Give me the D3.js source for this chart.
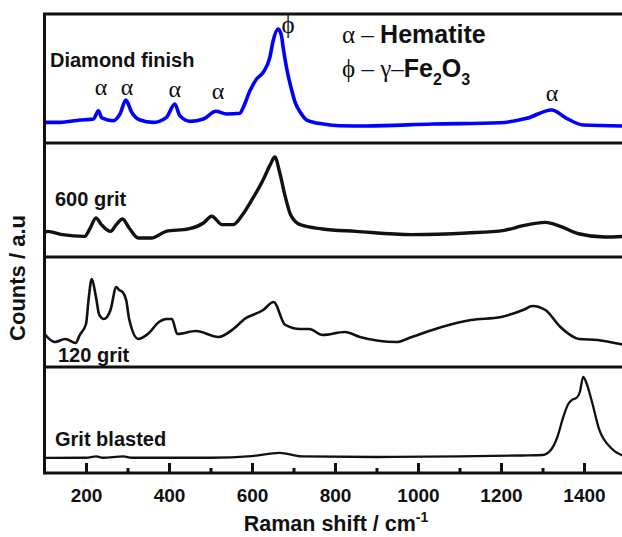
<!DOCTYPE html>
<meta charset="utf-8">
<title>Raman spectra</title>
<style>
body { margin: 0; background: #fff; }
svg { display: block; }
.lbl { font-family: "Liberation Sans", Arial, sans-serif; font-weight: bold; fill: #111; }
.greek { font-family: "Liberation Serif", "Times New Roman", serif; font-weight: normal; fill: #111; }
.axis text { font-family: "Liberation Sans", Arial, sans-serif; font-weight: bold; font-size: 19px; fill: #111; }
.axis line { stroke: #111; stroke-width: 3px; }
</style>
<body>
<svg width="622" height="537" id="svg"></svg>
<script src="https://d3js.org/d3.v7.min.js"></script>
<script>

// spectra (Raman shift in cm-1, counts in a.u. per panel)
var diamondShift = [100, 137, 186, 218, 230, 238, 266, 282, 296, 310, 330, 362, 394, 414, 426, 451, 483, 513, 539, 571, 579, 595, 611, 627, 643, 651, 663, 671, 675, 683, 696, 704, 716, 732, 772, 812, 876, 1036, 1197, 1262, 1322, 1358, 1398, 1500];
var diamondCounts = [16, 16, 17.8, 18.6, 25, 19.4, 17.3, 22.5, 33.3, 23.8, 17.8, 16, 19.9, 30.2, 21.2, 16.8, 18.6, 24.6, 22.5, 23, 27.7, 40.5, 49.6, 54.8, 66.4, 79.3, 88.4, 83.2, 74.2, 58.7, 40.5, 31.5, 24, 17.8, 14.7, 13.4, 13.2, 14.7, 15.7, 19.1, 25.6, 19.1, 14, 13.2];

var grit600Shift = [100, 107, 143, 197, 210, 224, 237, 259, 273, 288, 304, 326, 358, 393, 447, 483, 503, 528, 555, 577, 600, 627, 644, 655, 667, 680, 693, 716, 770, 850, 985, 1119, 1208, 1253, 1307, 1343, 1387, 1450, 1500];
var grit600Counts = [21, 22.5, 19.6, 18.1, 25.4, 34.2, 28.4, 22.5, 28.4, 33.3, 25.4, 16.7, 16.7, 22.5, 24.6, 29.8, 35.7, 28.4, 28.4, 37.1, 50.3, 67.8, 81, 87.7, 73.7, 53.2, 37.1, 28.4, 24.6, 22.5, 19.6, 21.1, 23.4, 27.5, 30.4, 26.9, 20.4, 17.5, 18.1];

var grit120Shift = [100, 125, 150, 175, 185, 200, 206, 214, 224, 232, 243, 259, 273, 280, 288, 297, 304, 326, 349, 376, 394, 407, 420, 465, 519, 555, 582, 627, 652, 680, 716, 738, 770, 824, 860, 949, 985, 1057, 1128, 1200, 1253, 1276, 1307, 1343, 1388, 1433, 1487, 1500];
var grit120Counts = [30, 22.7, 25.5, 21.8, 29.1, 39.1, 60.6, 80, 63.6, 47.3, 43.6, 51.8, 72.7, 70, 68.2, 60.6, 43.6, 25.5, 30, 40.9, 43.6, 43.6, 30, 32.7, 27.3, 34.5, 43.6, 51.8, 59.1, 38.2, 34.5, 34.5, 29.1, 31.8, 27.3, 22.7, 27.3, 36.4, 42.7, 45.5, 51.8, 55.5, 51.8, 36.4, 25.5, 24.5, 20.9, 20];

var blastedShift = [100, 200, 225, 240, 290, 310, 500, 600, 667, 720, 900, 1100, 1250, 1300, 1320, 1335, 1350, 1362, 1372, 1382, 1390, 1398, 1405, 1418, 1437, 1465, 1490, 1500];
var blastedCounts = [14.2, 14.4, 15.6, 14.4, 15.6, 14.4, 14.4, 16, 18.9, 15.6, 15.1, 15.6, 16.5, 17, 21.7, 33, 52.8, 65.1, 69.3, 70.8, 76.4, 90.6, 85.8, 68.9, 40.6, 23.6, 17, 16];

var panelNames = ["Diamond finish", "600 grit", "120 grit", "Grit blasted"];
var panelColors = ["#0000ff", "#111", "#111", "#111"];

// peak markers in the top panel
var alphaShift = [236, 299, 414, 518, 1323];
var alphaLevel = [37.2, 37.2, 35.7, 34.1, 32.6];
var phiShift = [687];
var phiLevel = [85.3];

var majorTicks = [200, 400, 600, 800, 1000, 1200, 1400];
var minorTicks = [300, 500, 700, 900, 1100, 1300, 1500];

var svg = d3.select("svg");

var x = d3.scaleLinear().domain([100, 1500]).range([44.5, 625.5]);

// panel bands (top, bottom) in pixels
var bands = [[14, 143], [143, 257], [257, 367], [367, 473]];
var ys = bands.map(function(b) {
  return d3.scaleLinear().domain([0, 100]).range([b[1], b[0]]);
});

var series = [
  d3.zip(diamondShift, diamondCounts),
  d3.zip(grit600Shift, grit600Counts),
  d3.zip(grit120Shift, grit120Counts),
  d3.zip(blastedShift, blastedCounts)
];
// the measured traces are noisy, so the thicker strokes stand in for the noise band
var widths = [3.6, 3.4, 2.6, 2.3];

series.forEach(function(s, i) {
  var line = d3.line()
      .curve(d3.curveMonotoneX)
      .x(function(d) { return x(d[0]); })
      .y(function(d) { return ys[i](d[1]); });
  svg.append("path")
      .datum(s)
      .attr("fill", "none")
      .attr("stroke", panelColors[i])
      .attr("stroke-width", widths[i])
      .attr("stroke-linejoin", "round")
      .attr("d", line);
});

// panel names
var namePos = [[50, 67], [55, 206], [58, 362], [55, 446]];
panelNames.forEach(function(n, i) {
  svg.append("text")
      .attr("class", "lbl")
      .attr("x", namePos[i][0])
      .attr("y", namePos[i][1])
      .attr("font-size", 20)
      .text(n);
});

// alpha / phi markers
svg.selectAll(".alpha")
  .data(alphaShift)
  .enter().append("text")
    .attr("class", "greek")
    .attr("text-anchor", "middle")
    .attr("font-size", 24)
    .attr("x", function(d) { return x(d); })
    .attr("y", function(d, i) { return ys[0](alphaLevel[i]); })
    .text("α");

svg.selectAll(".phi")
  .data(phiShift)
  .enter().append("text")
    .attr("class", "greek")
    .attr("text-anchor", "middle")
    .attr("font-size", 25)
    .attr("x", function(d) { return x(d); })
    .attr("y", function(d, i) { return ys[0](phiLevel[i]); })
    .text("ϕ");

// legend
var leg1 = svg.append("text").attr("x", 342).attr("y", 43).attr("font-size", 25);
leg1.append("tspan").attr("class", "greek").text("α");
leg1.append("tspan").attr("class", "greek").text(" – ");
leg1.append("tspan").attr("class", "lbl").text("Hematite");

var leg2 = svg.append("text").attr("x", 342).attr("y", 77).attr("font-size", 25);
leg2.append("tspan").attr("class", "greek").text("ϕ – γ–");
leg2.append("tspan").attr("class", "lbl").text("Fe");
leg2.append("tspan").attr("class", "lbl").attr("font-size", 16).attr("dy", 8).text("2");
leg2.append("tspan").attr("class", "lbl").attr("dy", -8).text("O");
leg2.append("tspan").attr("class", "lbl").attr("font-size", 16).attr("dy", 8).text("3");

// frame and separators
svg.append("rect")
    .attr("x", 44.5).attr("y", 14)
    .attr("width", 640).attr("height", 459)
    .attr("fill", "none").attr("stroke", "#111").attr("stroke-width", 3);

svg.selectAll(".sep")
  .data(bands.slice(1))
  .enter().append("line")
    .attr("x1", 44.5).attr("x2", 640)
    .attr("y1", function(d) { return d[0]; })
    .attr("y2", function(d) { return d[0]; })
    .attr("stroke", "#111").attr("stroke-width", 3);

// bottom axis, ticks pointing inward
var gx = svg.append("g")
    .attr("class", "axis")
    .attr("transform", "translate(0,473)")
    .call(d3.axisBottom(x).tickValues(majorTicks).tickSize(-10).tickSizeOuter(0)
      .tickPadding(16).tickFormat(d3.format("d")));
gx.select(".domain").remove();

var gm = svg.append("g")
    .attr("class", "axis")
    .attr("transform", "translate(0,473)")
    .call(d3.axisBottom(x).tickValues(minorTicks).tickSize(-5).tickSizeOuter(0).tickFormat(""));
gm.select(".domain").remove();

// axis titles
var xt = svg.append("text")
    .attr("class", "lbl")
    .attr("text-anchor", "middle")
    .attr("x", 336).attr("y", 531)
    .attr("font-size", 21.5)
    .text("Raman shift / cm");
xt.append("tspan").attr("font-size", 14).attr("dy", -9).text("-1");

svg.append("text")
    .attr("class", "lbl")
    .attr("text-anchor", "middle")
    .attr("transform", "translate(25,278) rotate(-90)")
    .attr("font-size", 22)
    .text("Counts / a.u");

</script>
</body>
